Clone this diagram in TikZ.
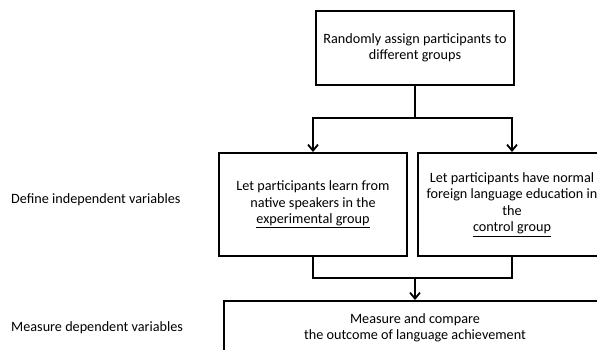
\documentclass[tikz,border=0pt]{standalone}
\usepackage{fontspec}
\setmainfont{Carlito}
\usetikzlibrary{arrows.meta}
\begin{document}
\begin{tikzpicture}[x=1pt,y=-1pt,
  box/.style={draw, line width=2pt, align=center, inner sep=0pt,
    font=\fontsize{14.2}{16.5}\selectfont},
  lbl/.style={anchor=west, inner sep=0pt, font=\fontsize{14.2}{16.5}\selectfont},
  conn/.style={line width=2pt},
  arr/.style={conn, -{Straight Barb[length=6pt,width=10pt,line width=1.8pt]}}]
\useasboundingbox (0,0) rectangle (597,349);
\clip (0,0) rectangle (597,349);
\node[box, minimum width=198pt, minimum height=74pt] (top) at (415,48)
  {Randomly assign participants to\\different groups};
\node[box, minimum width=188pt, minimum height=103pt] (left) at (313,204.5)
  {Let participants learn from\\native speakers in the\\\underline{experimental group}};
\node[box, minimum width=188pt, minimum height=103pt] (right) at (512,204.5)
  {Let participants have normal\\foreign language education in\\the\\\underline{control group}};
\node[box, minimum width=382pt, minimum height=54pt] (bottom) at (415,328)
  {Measure and compare\\the outcome of language achievement};
\node[lbl] (l1) at (11,200) {Define independent variables};
\node[lbl] (l2) at (11,328) {Measure dependent variables};
\coordinate (j1) at (415,118);
\coordinate (j2) at (415,278);
\draw[conn] (top.south) -- (j1);
\draw[arr] (j1) -| (left.north);
\draw[arr] (j1) -| (right.north);
\draw[conn] (left.south) |- (j2);
\draw[conn] (right.south) |- (j2);
\draw[arr] (j2) -- (bottom.north);
\end{tikzpicture}
\end{document}
